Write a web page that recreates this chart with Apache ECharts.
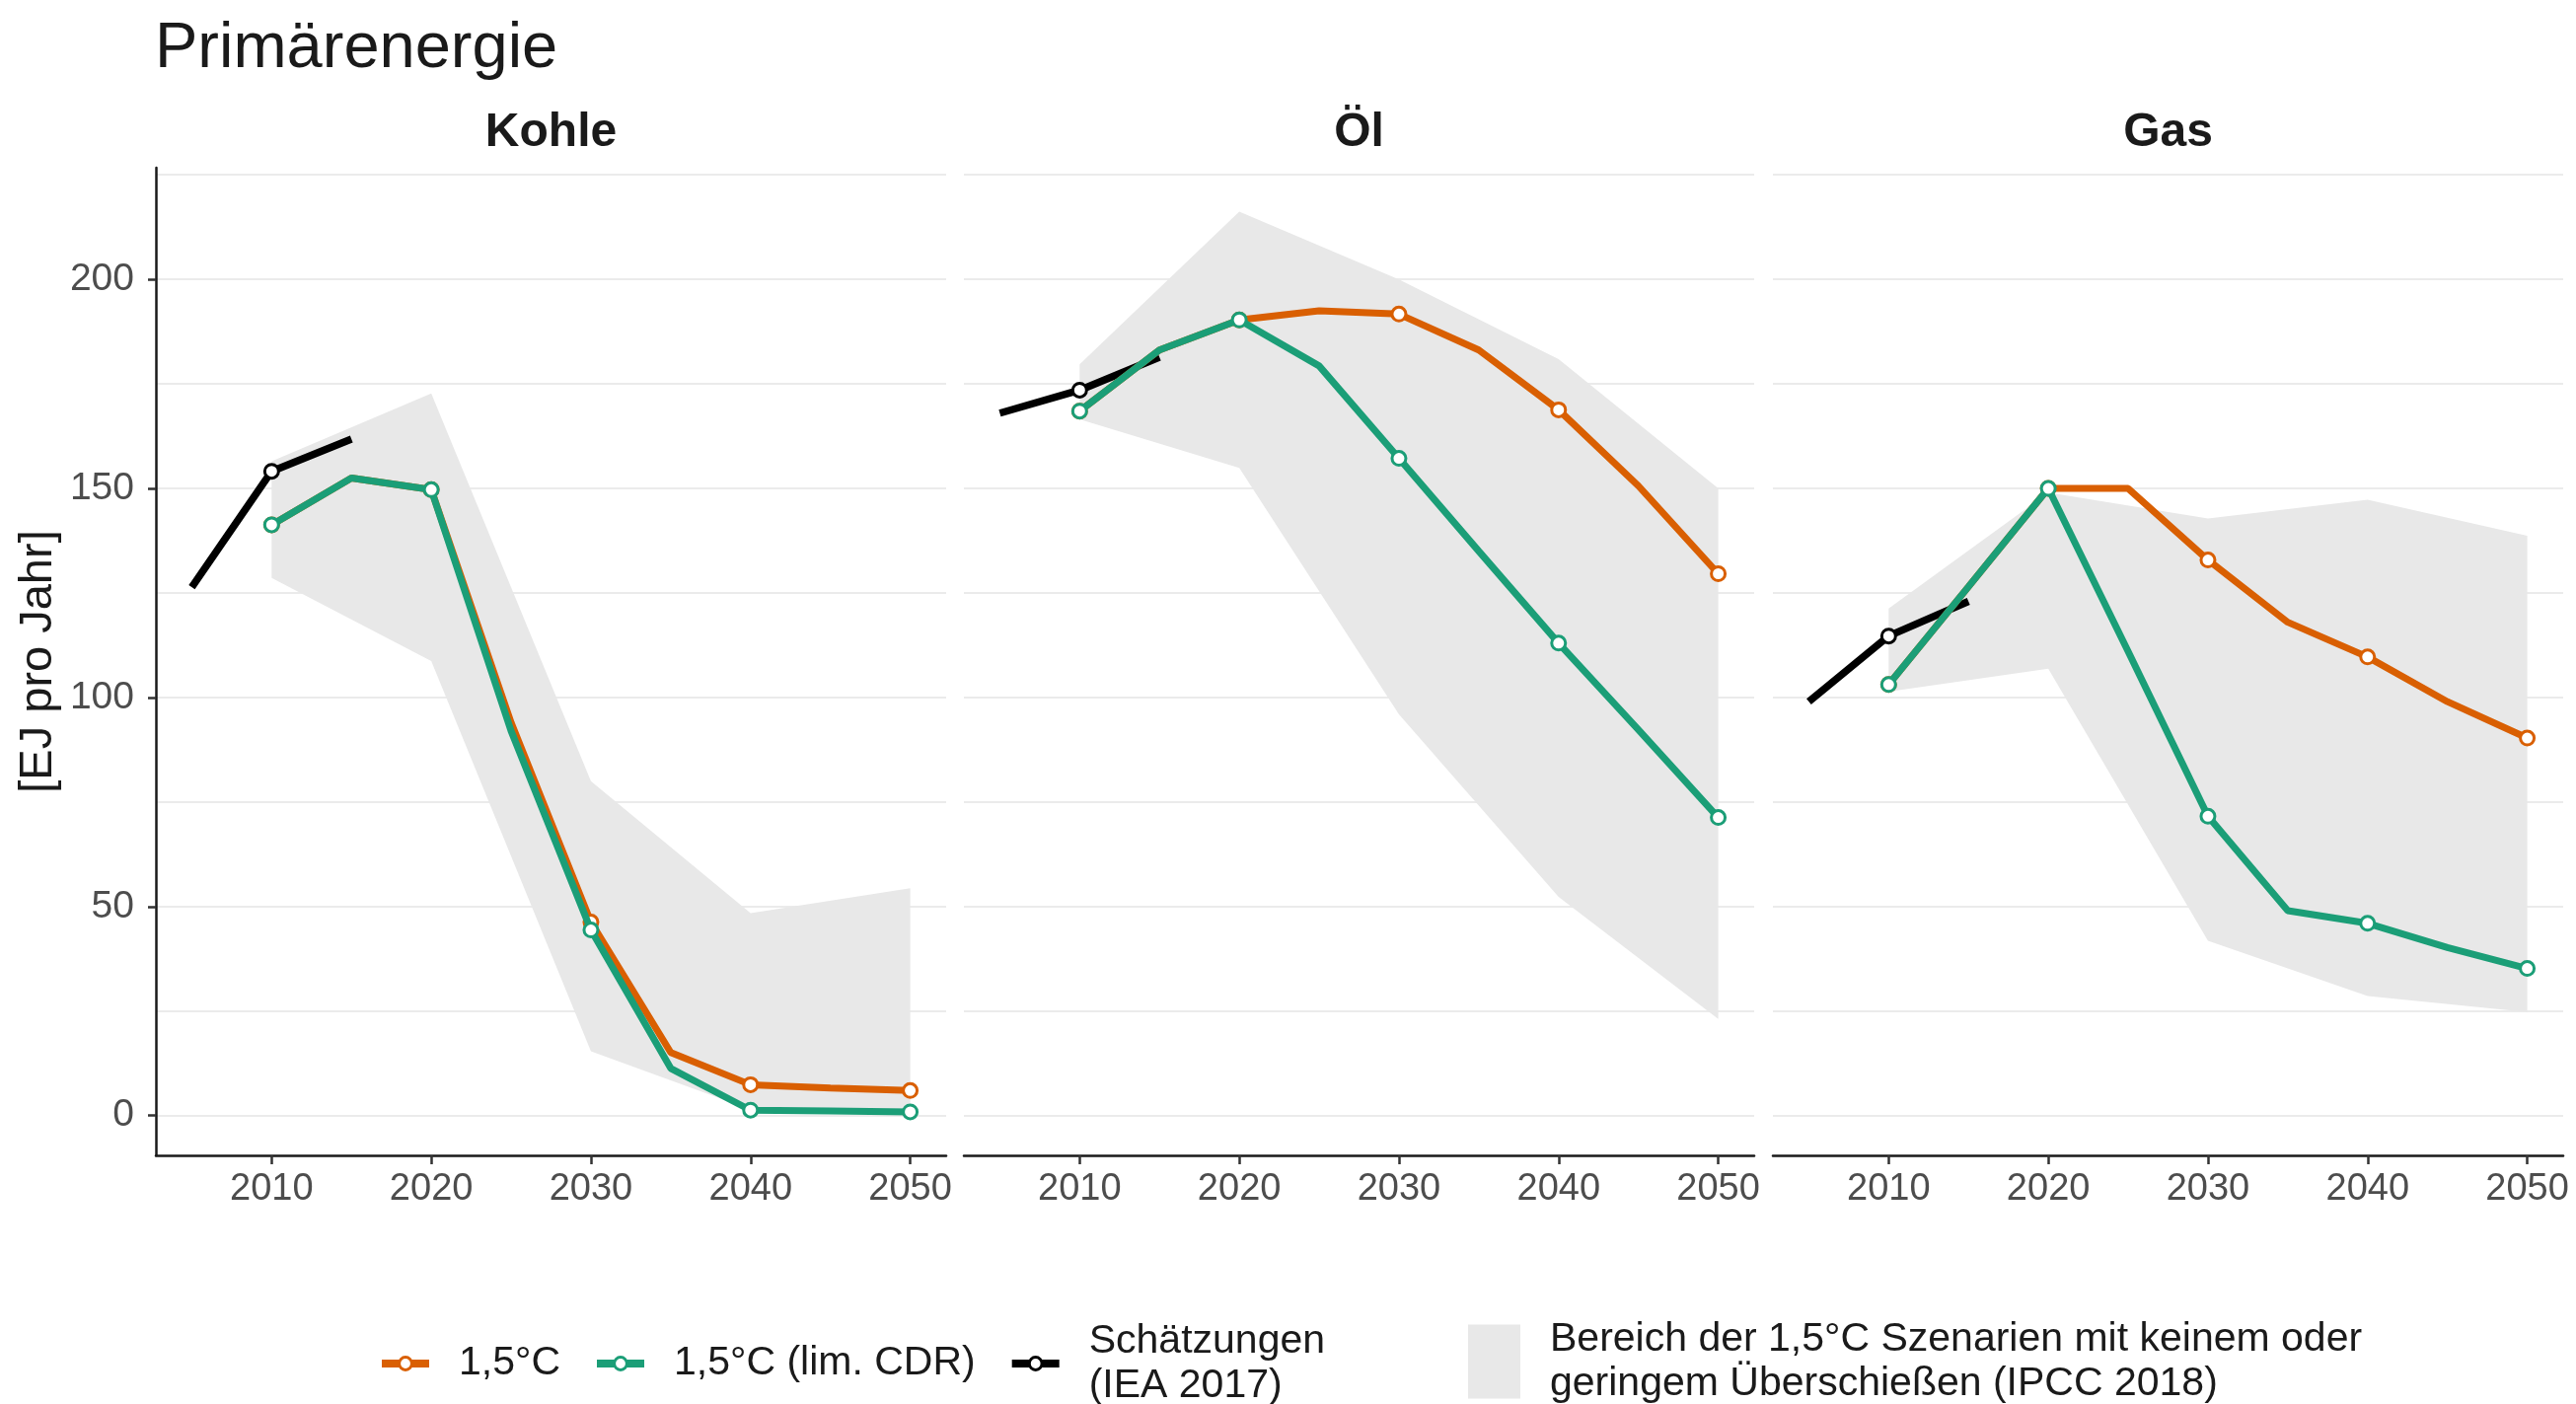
<!DOCTYPE html>
<html><head><meta charset="utf-8">
<script src="https://cdn.jsdelivr.net/npm/echarts@6/dist/echarts.min.js"></script>
<style>html,body{margin:0;padding:0;background:#fff}#c{width:2611px;height:1423px}</style>
</head><body><div id="c"></div>
<script>
// ---------- data ----------
const panels = ['Kohle', 'Öl', 'Gas'];
const seriesYears = [2010, 2015, 2020, 2025, 2030, 2035, 2040, 2045, 2050];
const ieaYears = [2005, 2010, 2015];
const rangeYears = [2010, 2020, 2030, 2040, 2050];
const xTicks = [2010, 2020, 2030, 2040, 2050];
const yTicks = [0, 50, 100, 150, 200];
const yGridValues = [0, 25, 50, 75, 100, 125, 150, 175, 200, 225];

const kohle15 = [141.3, 152.5, 149.7, 94.0, 46.3, 15.1, 7.4, 6.6, 6.0];
const kohleCDR = [141.3, 152.5, 149.7, 92.0, 44.4, 11.3, 1.3, 1.1, 0.9];
const kohleIEA = [126.4, 154.1, 161.8];
const kohleLo = [128.6, 108.7, 15.4, 1.5, 0.8];
const kohleHi = [156.5, 172.7, 80.0, 48.4, 54.4];

const oel15 = [168.5, 183.1, 190.3, 192.5, 191.7, 183.1, 168.8, 150.6, 129.6];
const oelCDR = [168.5, 183.1, 190.3, 179.3, 157.2, 135.0, 113.0, 92.3, 71.3];
const oelIEA = [168.0, 173.5, 181.4];
const oelLo = [166.5, 154.9, 96.0, 52.3, 23.1];
const oelHi = [179.7, 216.2, 200.0, 180.9, 150.0];

const gas15 = [103.1, 126.5, 150.0, 150.0, 132.9, 118.0, 109.7, 99.0, 90.3];
const gasCDR = [103.1, 126.5, 150.0, 111.0, 71.6, 49.0, 46.0, 40.2, 35.2];
const gasIEA = [99.0, 114.7, 123.0];
const gasLo = [101.4, 106.9, 41.8, 28.6, 24.8];
const gasHi = [121.3, 149.0, 142.8, 147.3, 138.7];

const NAME_15 = '1,5°C';
const NAME_CDR = '1,5°C (lim. CDR)';
const NAME_IEA = 'Schätzungen (IEA 2017)';
const NAME_RANGE = 'Bereich der 1,5°C Szenarien mit keinem oder geringem Überschießen (IPCC 2018)';

const panelData = [
  {s15: kohle15, cdr: kohleCDR, iea: kohleIEA, lo: kohleLo, hi: kohleHi},
  {s15: oel15, cdr: oelCDR, iea: oelIEA, lo: oelLo, hi: oelHi},
  {s15: gas15, cdr: gasCDR, iea: gasIEA, lo: gasLo, hi: gasHi}
];

// ---------- layout / style ----------
const FONT = '"Liberation Sans", Arial, sans-serif';
const gridLefts = [158, 977, 1797];
const GW = 801, GT = 170, GH = 1001;
const XMIN = 2002.75, XMAX = 2052.25, YMIN = -9.5, YMAX = 226.7;
const C15 = '#d95f02', CCDR = '#1b9e77', CIEA = '#000000', CRANGE = '#e8e8e8';

function marked(years, vals) {
  return years.map((y, k) => (y % 10 === 0) ? [y, vals[k]] : {value: [y, vals[k]], symbol: 'none'});
}

const grid = [], xAxis = [], yAxis = [], series = [];
for (let i = 0; i < 3; i++) {
  grid.push({left: gridLefts[i], top: GT, width: GW, height: GH, containLabel: false, outerBoundsMode: 'none'});
  xAxis.push({
    type: 'value', gridIndex: i, min: XMIN, max: XMAX,
    axisLine: {show: true, onZero: false, lineStyle: {color: '#1a1a1a', width: 2.5}},
    axisTick: {show: true, customValues: xTicks, length: 9, lineStyle: {color: '#333', width: 2.5}},
    axisLabel: {customValues: xTicks, margin: 16, fontSize: 38, color: '#4d4d4d', fontFamily: FONT,
      formatter: v => String(v)},
    splitLine: {show: false}
  });
}
for (let i = 0; i < 3; i++) {
  xAxis.push({
    type: 'value', gridIndex: i, position: 'top', min: XMIN, max: XMAX,
    name: panels[i], nameLocation: 'middle', nameGap: 11,
    nameTextStyle: {fontSize: 48, fontWeight: 'bold', color: '#1a1a1a', fontFamily: FONT},
    axisLine: {show: false}, axisTick: {show: false}, axisLabel: {show: false}, splitLine: {show: false}
  });
}
for (let i = 0; i < 3; i++) {
  yAxis.push({
    type: 'value', gridIndex: i, min: YMIN, max: YMAX,
    axisLine: {show: false, onZero: false},
    axisTick: {show: false, customValues: yGridValues},
    axisLabel: {show: i === 0, customValues: yTicks, margin: 22, fontSize: 39, color: '#4d4d4d', fontFamily: FONT,
      formatter: v => String(v)},
    splitLine: {show: true, lineStyle: {color: '#ebebeb', width: 2}},
    name: i === 0 ? '[EJ pro Jahr]' : '', nameLocation: 'middle', nameRotate: 90, nameGap: 95,
    nameTextStyle: {fontSize: 47, color: '#1a1a1a', fontFamily: FONT}
  });
}
yAxis.push({
  type: 'value', gridIndex: 0, min: YMIN, max: YMAX, position: 'left',
  axisLine: {show: true, onZero: false, lineStyle: {color: '#1a1a1a', width: 2.5}},
  axisTick: {show: true, customValues: yTicks, length: 8, lineStyle: {color: '#333', width: 2.5}},
  axisLabel: {show: false}, splitLine: {show: false}
});

function lineSeries(name, color, years, vals, i, z, w) {
  return {
    type: 'line', name: name, xAxisIndex: i, yAxisIndex: i,
    data: marked(years, vals), symbol: 'circle', symbolSize: 14, showAllSymbol: true,
    lineStyle: {color: color, width: w}, itemStyle: {color: '#ffffff', borderColor: color, borderWidth: 3},
    z: z, silent: true
  };
}

function rangeSeries(i, d) {
  return {
    type: 'custom', name: NAME_RANGE, xAxisIndex: i, yAxisIndex: i,
    data: rangeYears.map((y, k) => [y, d.lo[k], d.hi[k]]),
    encode: {x: 0, y: [1, 2]},
    itemStyle: {color: CRANGE}, silent: true, z: 1, clip: true,
    renderItem: function (params, api) {
      if (params.dataIndex !== 0) return null;
      const upper = [], lower = [];
      for (let k = 0; k < rangeYears.length; k++) {
        upper.push(api.coord([rangeYears[k], d.hi[k]]));
        lower.push(api.coord([rangeYears[k], d.lo[k]]));
      }
      return {type: 'polygon', shape: {points: upper.concat(lower.reverse())}, style: {fill: CRANGE}, silent: true};
    }
  };
}

for (let i = 0; i < 3; i++) {
  const d = panelData[i];
  series.push(rangeSeries(i, d));
  series.push(lineSeries(NAME_IEA, CIEA, ieaYears, d.iea, i, 3, 7.5));
  series.push(lineSeries(NAME_15, C15, seriesYears, d.s15, i, 4, 7));
  series.push(lineSeries(NAME_CDR, CCDR, seriesYears, d.cdr, i, 5, 7));
}

const option = {
  animation: false,
  backgroundColor: '#ffffff',
  title: {text: 'Primärenergie', left: 157, top: 18, padding: 0,
    textStyle: {fontSize: 65, fontWeight: 'normal', color: '#1a1a1a', fontFamily: FONT}},
  legend: [
    {
      data: [NAME_15, NAME_CDR, NAME_IEA], left: 383, top: 1337, orient: 'horizontal',
      itemWidth: 48, itemHeight: 16, itemGap: 33, padding: 0, selectedMode: false,
      lineStyle: {width: 8}, itemStyle: {borderWidth: 3},
      formatter: n => n === NAME_IEA ? 'Schätzungen\n(IEA 2017)' : n,
      textStyle: {fontSize: 41, color: '#1a1a1a', fontFamily: FONT, lineHeight: 45, padding: [0, 0, 0, 25]}
    },
    {
      data: [{name: NAME_RANGE, icon: 'rect'}], left: 1488, top: 1335, orient: 'horizontal',
      itemWidth: 53, itemHeight: 75, padding: 0, selectedMode: false,
      formatter: () => 'Bereich der 1,5°C Szenarien mit keinem oder\ngeringem Überschießen (IPCC 2018)',
      textStyle: {fontSize: 41, color: '#1a1a1a', fontFamily: FONT, lineHeight: 45, padding: [0, 0, 0, 25]}
    }
  ],
  grid: grid, xAxis: xAxis, yAxis: yAxis, series: series
};

const chart = echarts.init(document.getElementById('c'), null, {renderer: 'canvas', width: 2611, height: 1423});
chart.setOption(option);
</script>
</body></html>
